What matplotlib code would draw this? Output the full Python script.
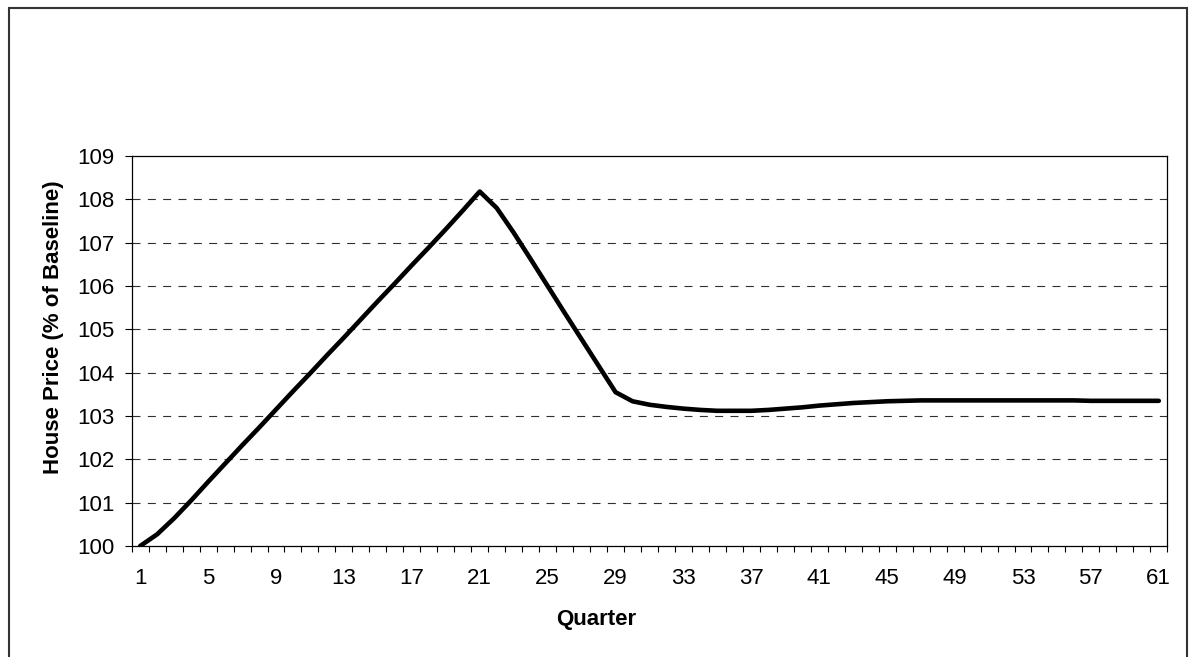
import matplotlib
matplotlib.use("Agg")
import matplotlib.pyplot as plt
from matplotlib.patches import Rectangle
from matplotlib.ticker import FixedLocator, NullFormatter

plt.rcParams['font.family'] = ['Liberation Sans', 'DejaVu Sans']

quarters = list(range(1, 62))
house_price = [
    100.00, 100.27, 100.64, 101.05, 101.48, 101.90, 102.32, 102.73, 103.15, 103.57,
    103.98, 104.40, 104.81, 105.23, 105.65, 106.06, 106.48, 106.89, 107.31, 107.74,
    108.18, 107.80, 107.23, 106.62, 106.00, 105.38, 104.77, 104.16, 103.55, 103.34,
    103.26, 103.21, 103.17, 103.14, 103.12, 103.12, 103.12, 103.14, 103.17, 103.20,
    103.24, 103.27, 103.30, 103.32, 103.34, 103.35, 103.36, 103.36, 103.36, 103.36,
    103.36, 103.36, 103.36, 103.36, 103.36, 103.36, 103.35, 103.35, 103.35, 103.35,
    103.35,
]
x_tick_labels = [str(q) for q in range(1, 62, 4)]
y_ticks = list(range(100, 110))
x_label = "Quarter"
y_label = "House Price (% of Baseline)"

W, H = 1191, 657
FS = 16
fig = plt.figure(figsize=(W / 100, H / 100), dpi=100)

# outer chart border
fig.patches.append(Rectangle((9 / W, -0.05), (1187 - 9) / W, 1 - 8 / H + 0.05,
                             transform=fig.transFigure, fill=False,
                             edgecolor='#333333', linewidth=1.5))

left, right, top, bottom = 131.7, 1167.3, 156, 546
ax = fig.add_axes([left / W, 1 - bottom / H, (right - left) / W, (bottom - top) / H])

ax.plot(quarters, house_price, color='black', linewidth=3.3, solid_joinstyle='round',
        solid_capstyle='round', zorder=3)

ax.set_xlim(0.5, 61.5)
ax.set_ylim(100, 109)

ax.xaxis.set_major_locator(FixedLocator([int(s) for s in x_tick_labels]))
ax.set_xticklabels(x_tick_labels)
ax.xaxis.set_minor_locator(FixedLocator([q + 0.5 for q in range(0, 62)]))
ax.xaxis.set_minor_formatter(NullFormatter())
ax.tick_params(axis='x', which='major', length=0, pad=15.8, labelsize=FS)
ax.tick_params(axis='x', which='minor', direction='out', length=4.5, width=0.8, color='black')

ax.set_yticks(y_ticks)
ax.tick_params(axis='y', direction='out', length=5, width=0.8, pad=7.5, labelsize=FS)

for y in y_ticks[1:-1]:
    ax.axhline(y, color='#303030', linewidth=0.8, linestyle=(0, (7.2, 6.6)), zorder=1)

for s in ax.spines.values():
    s.set_linewidth(0.9)
    s.set_color('black')

fig.text(596 / W, 1 - 625 / H, x_label, ha='center', va='baseline',
         fontsize=FS, fontweight='bold')
fig.text(59.3 / W, 1 - 327 / H, y_label, ha='center', va='baseline', rotation=90,
         rotation_mode='anchor', fontsize=FS, fontweight='bold')

fig.savefig("out.png", dpi=100)
